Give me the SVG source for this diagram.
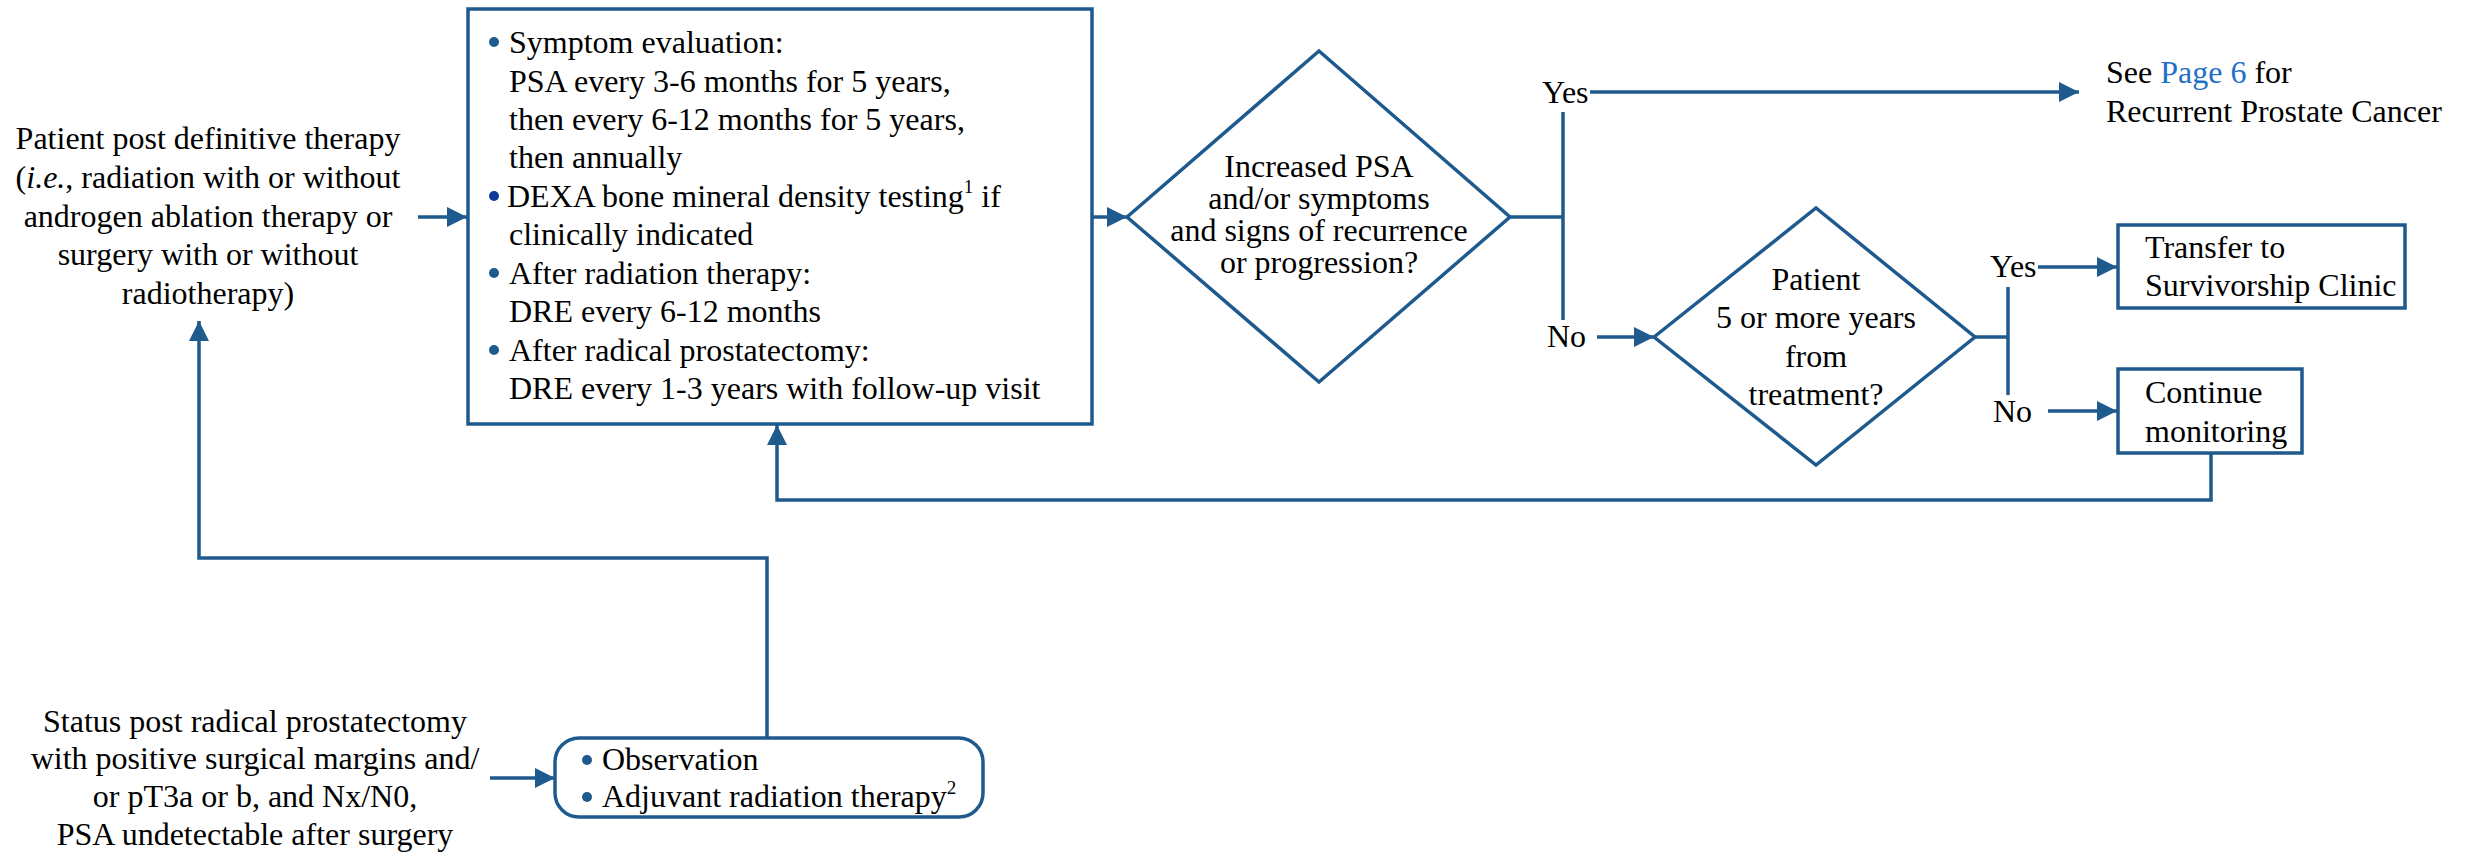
<svg xmlns="http://www.w3.org/2000/svg" width="2481" height="854" viewBox="0 0 2481 854">
  <style>
    text { font-family: "Liberation Serif", "Times New Roman", serif; font-size: 32px; fill: #000; }
    .c { text-anchor: middle; }
    .box { fill: #fff; stroke: #1f5a8e; stroke-width: 3.5; }
    .edge { fill: none; stroke: #1f5a8e; stroke-width: 3.5; }
    .dot { fill: #1f5a8e; }
    .sup { font-size: 19px; }
    .link { fill: #1f6fc6; }
  </style>
  <defs>
    <marker id="arrow" markerUnits="userSpaceOnUse" markerWidth="22" markerHeight="22" refX="20" refY="10" orient="auto">
      <path d="M0,0 L20,10 L0,20 z" fill="#1f5a8e"/>
    </marker>
  </defs>

  <rect width="2481" height="854" fill="#fff"/>

  <!-- connectors -->
  <g id="connectors">
    <line class="edge" x1="418" y1="217" x2="467" y2="217" marker-end="url(#arrow)"/>
    <line class="edge" x1="1092" y1="217" x2="1127" y2="217" marker-end="url(#arrow)"/>
    <polyline class="edge" points="1510,217 1563,217"/>
    <line class="edge" x1="1563" y1="112" x2="1563" y2="320"/>
    <line class="edge" x1="1590" y1="92" x2="2079" y2="92" marker-end="url(#arrow)"/>
    <line class="edge" x1="1597" y1="337" x2="1654" y2="337" marker-end="url(#arrow)"/>
    <polyline class="edge" points="1975,337 2008,337"/>
    <line class="edge" x1="2008" y1="287" x2="2008" y2="395"/>
    <line class="edge" x1="2038" y1="267" x2="2117" y2="267" marker-end="url(#arrow)"/>
    <line class="edge" x1="2048" y1="411" x2="2117" y2="411" marker-end="url(#arrow)"/>
    <polyline class="edge" points="2211,453 2211,500 777,500 777,425" marker-end="url(#arrow)"/>
    <polyline class="edge" points="767,738 767,558 199,558 199,321" marker-end="url(#arrow)"/>
    <line class="edge" x1="490" y1="778" x2="555" y2="778" marker-end="url(#arrow)"/>
  </g>

  <!-- start: patient post definitive therapy -->
  <g id="start-definitive">
    <text class="c" x="208" y="149">Patient post definitive therapy</text>
    <text class="c" x="208" y="188">(<tspan font-style="italic">i.e.</tspan>, radiation with or without</text>
    <text class="c" x="208" y="227">androgen ablation therapy or</text>
    <text class="c" x="208" y="265">surgery with or without</text>
    <text class="c" x="208" y="304">radiotherapy)</text>
  </g>

  <!-- follow-up schedule box -->
  <g id="followup">
    <rect class="box" x="468" y="9" width="624" height="415"/>
    <circle class="dot" cx="494" cy="42" r="5"/>
    <text x="509" y="53">Symptom evaluation:</text>
    <text x="509" y="92">PSA every 3-6 months for 5 years,</text>
    <text x="509" y="130">then every 6-12 months for 5 years,</text>
    <text x="509" y="168">then annually</text>
    <circle cx="494" cy="196" r="5" fill="#0b3a9a"/>
    <text x="507" y="207">DEXA bone mineral density testing<tspan class="sup" dy="-14">1</tspan><tspan dy="14"> if</tspan></text>
    <text x="509" y="245">clinically indicated</text>
    <circle class="dot" cx="494" cy="273" r="5"/>
    <text x="509" y="284">After radiation therapy:</text>
    <text x="509" y="322">DRE every 6-12 months</text>
    <circle class="dot" cx="494" cy="350" r="5"/>
    <text x="509" y="361">After radical prostatectomy:</text>
    <text x="509" y="399">DRE every 1-3 years with follow-up visit</text>
  </g>

  <!-- decision: recurrence -->
  <g id="decision-recurrence">
    <polygon class="box" points="1127,217 1319,51 1510,217 1319,382"/>
    <text class="c" x="1319" y="177">Increased PSA</text>
    <text class="c" x="1319" y="209">and/or symptoms</text>
    <text class="c" x="1319" y="241">and signs of recurrence</text>
    <text class="c" x="1319" y="273">or progression?</text>
    <text x="1542" y="103">Yes</text>
    <text x="1547" y="347">No</text>
  </g>

  <!-- referral to recurrent disease page -->
  <g id="recurrent">
    <text x="2106" y="83">See <tspan class="link">Page 6</tspan> for</text>
    <text x="2106" y="122">Recurrent Prostate Cancer</text>
  </g>

  <!-- decision: years from treatment -->
  <g id="decision-years">
    <polygon class="box" points="1654,337 1816,208 1975,337 1816,465"/>
    <text class="c" x="1816" y="290">Patient</text>
    <text class="c" x="1816" y="328">5 or more years</text>
    <text class="c" x="1816" y="367">from</text>
    <text class="c" x="1816" y="405">treatment?</text>
    <text x="1990" y="277">Yes</text>
    <text x="1993" y="422">No</text>
  </g>

  <g id="survivorship">
    <rect class="box" x="2118" y="225" width="287" height="83"/>
    <text x="2145" y="258">Transfer to</text>
    <text x="2145" y="296">Survivorship Clinic</text>
  </g>

  <g id="continue">
    <rect class="box" x="2118" y="369" width="184" height="84"/>
    <text x="2145" y="403">Continue</text>
    <text x="2145" y="442">monitoring</text>
  </g>

  <!-- start: post prostatectomy -->
  <g id="start-prostatectomy">
    <text class="c" x="255" y="732">Status post radical prostatectomy</text>
    <text class="c" x="255" y="769">with positive surgical margins and/</text>
    <text class="c" x="255" y="807">or pT3a or b, and Nx/N0,</text>
    <text class="c" x="255" y="845">PSA undetectable after surgery</text>
  </g>

  <g id="adjuvant">
    <rect class="box" x="555" y="738" width="428" height="79" rx="24" ry="24"/>
    <circle class="dot" cx="587" cy="760" r="5"/>
    <text x="602" y="770">Observation</text>
    <circle class="dot" cx="587" cy="797" r="5"/>
    <text x="602" y="807">Adjuvant radiation therapy<tspan class="sup" dy="-13">2</tspan></text>
  </g>
</svg>
